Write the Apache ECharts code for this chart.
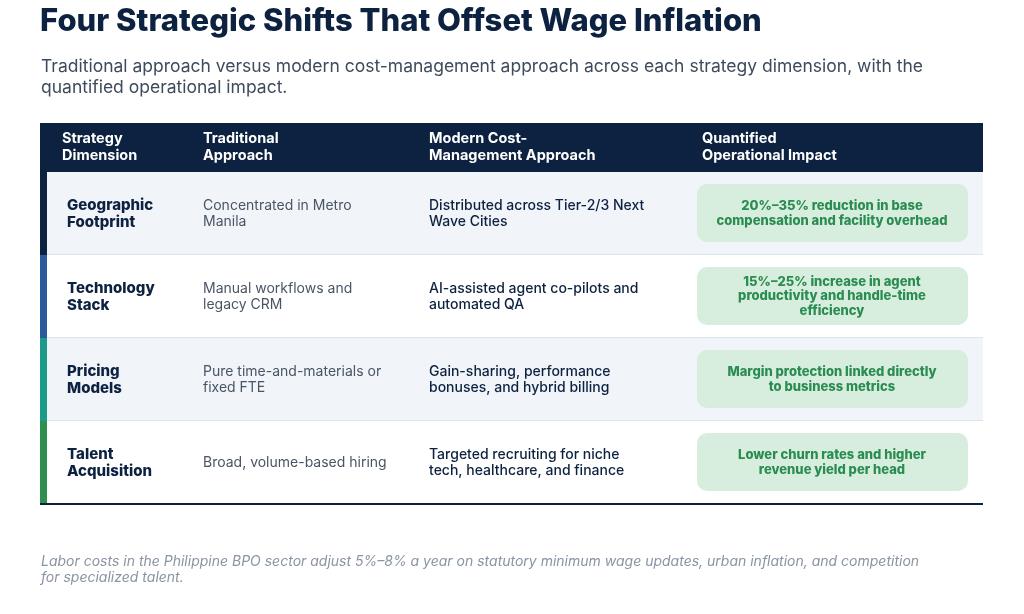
<!DOCTYPE html>
<html><head><meta charset="utf-8">
<script src="https://cdn.jsdelivr.net/npm/echarts@6/dist/echarts.min.js"></script>
<style>html,body{margin:0;padding:0;background:#fff}#c{width:1024px;height:614px}</style>
</head><body><div id="c"></div>
<script>
const title = "Four Strategic Shifts That Offset Wage Inflation";
const subtitle = "Traditional approach versus modern cost-management approach across each strategy dimension, with the\nquantified operational impact.";
const headers = ["Strategy\nDimension", "Traditional\nApproach", "Modern Cost-\nManagement Approach", "Quantified\nOperational Impact"];
const dimensions = ["Geographic\nFootprint", "Technology\nStack", "Pricing\nModels", "Talent\nAcquisition"];
const traditional = ["Concentrated in Metro\nManila", "Manual workflows and\nlegacy CRM", "Pure time-and-materials or\nfixed FTE", "Broad, volume-based hiring"];
const modern = ["Distributed across Tier-2/3 Next\nWave Cities", "AI-assisted agent co-pilots and\nautomated QA", "Gain-sharing, performance\nbonuses, and hybrid billing", "Targeted recruiting for niche\ntech, healthcare, and finance"];
const impact = ["20%–35% reduction in base\ncompensation and facility overhead", "15%–25% increase in agent\nproductivity and handle-time\nefficiency", "Margin protection linked directly\nto business metrics", "Lower churn rates and higher\nrevenue yield per head"];
const accents = ["#0d2240", "#2b5a9e", "#1d9a8a", "#2e8f4e"];
const footnote = "Labor costs in the Philippine BPO sector adjust 5%–8% a year on statutory minimum wage updates, urban inflation, and competition\nfor specialized talent.";

const F = "Inter, 'Noto Sans', sans-serif";
const L = 40, R = 983, HT = 123, HB = 172, RH = 83;
const colX = [62, 203, 429, 702];
const g = [];
g.push({type:'text', left:40, top:6, style:{text:title, font:"800 31px "+F, fill:"#0d2240"}});
g.push({type:'text', left:41, top:56, style:{text:subtitle, font:"17.5px "+F, fill:"#3d4b5c", lineHeight:21}});
g.push({type:'rect', shape:{x:L, y:HT, width:R-L, height:HB-HT}, style:{fill:"#0d2240"}});
headers.forEach((h,i)=>g.push({type:'text', x:colX[i], y:(HT+HB)/2, style:{text:h, font:"bold 14.5px "+F, fill:"#fff", lineHeight:17, verticalAlign:'middle'}}));
dimensions.forEach((d,i)=>{
  const y = HB + i*RH, cy = y + RH/2;
  g.push({type:'rect', shape:{x:L, y:y, width:R-L, height:RH}, style:{fill: i%2===0 ? "#f1f4f9" : "#ffffff"}});
  g.push({type:'rect', shape:{x:L, y:y+RH-1, width:R-L, height:1.5}, style:{fill:"#dde3ec"}});
  g.push({type:'rect', shape:{x:L, y:y, width:7, height:RH}, style:{fill:accents[i]}});
  g.push({type:'text', x:67, y:cy, style:{text:d, font:"800 15px "+F, fill:"#0d2240", lineHeight:17, verticalAlign:'middle'}});
  g.push({type:'text', x:203, y:cy, style:{text:traditional[i], font:"14px "+F, fill:"#4a5564", lineHeight:16, verticalAlign:'middle'}});
  g.push({type:'text', x:429, y:cy, style:{text:modern[i], font:"500 14px "+F, fill:"#0d2240", lineHeight:16, verticalAlign:'middle'}});
  g.push({type:'rect', shape:{x:697, y:y+12, width:271, height:58, r:10}, style:{fill:"#d7eede"}});
  g.push({type:'text', x:832, y:cy, style:{text:impact[i], font:"800 13px "+F, fill:"#2a8c50", lineHeight:14.5, align:'center', verticalAlign:'middle'}});
});
g.push({type:'rect', shape:{x:L, y:HB+4*RH-1, width:R-L, height:2}, style:{fill:"#0d2240"}});
g.push({type:'text', left:41, top:554, style:{text:footnote, font:"italic 14px "+F, fill:"#8a94a3", lineHeight:16}});

const chart = echarts.init(document.getElementById('c'));
chart.setOption({backgroundColor:'#fff', graphic:g});
</script></body></html>
